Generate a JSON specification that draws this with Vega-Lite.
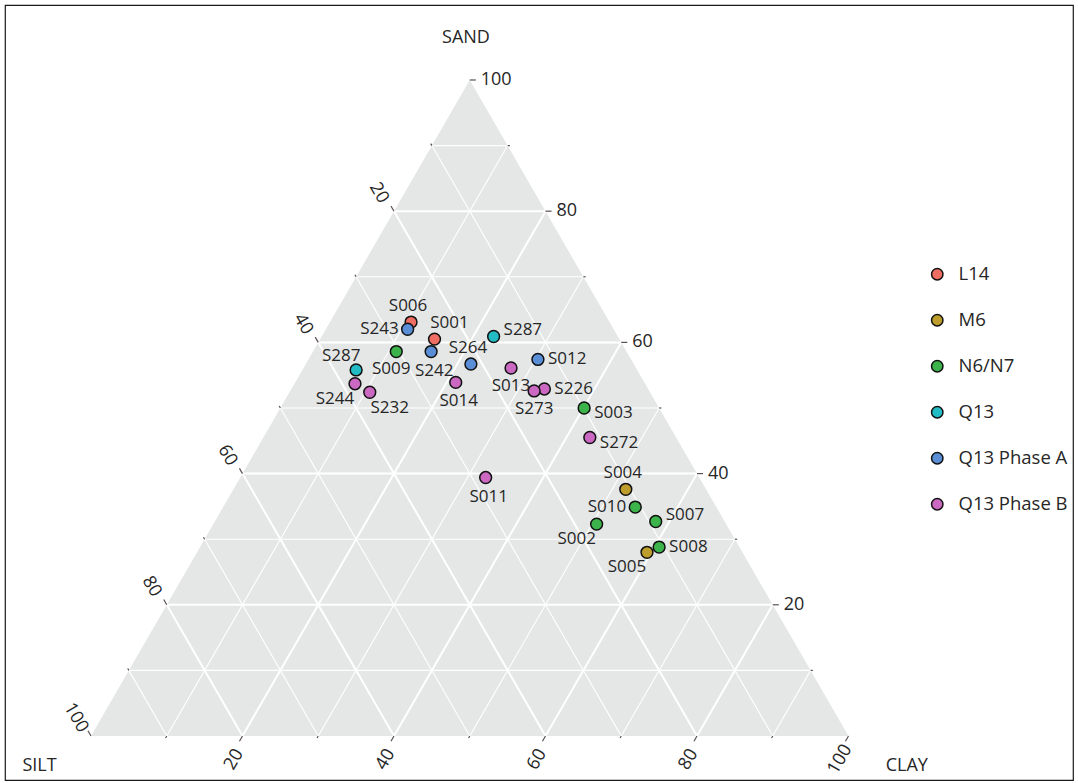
{
  "$schema": "https://vega.github.io/schema/vega-lite/v6.json",
  "width": 1068,
  "height": 775,
  "autosize": {"type": "none"},
  "padding": {"left": 5, "top": 5, "right": 5, "bottom": 3},
  "background": "white",
  "config": {
    "view": {"stroke": "#1a1a1a", "strokeWidth": 1.2},
    "font": "Open Sans",
    "text": {"font": "Open Sans", "color": "#262626"}
  },
  "datasets": {
    "corners": [
      {"corner": "SILT", "sand": 0, "clay": 0},
      {"corner": "SAND", "sand": 100, "clay": 0},
      {"corner": "CLAY", "sand": 0, "clay": 100}
    ],
    "scale": [
      {"axis": "SAND", "v": 10}, {"axis": "SAND", "v": 20}, {"axis": "SAND", "v": 30}, {"axis": "SAND", "v": 40}, {"axis": "SAND", "v": 50},
      {"axis": "SAND", "v": 60}, {"axis": "SAND", "v": 70}, {"axis": "SAND", "v": 80}, {"axis": "SAND", "v": 90}, {"axis": "SAND", "v": 100},
      {"axis": "SILT", "v": 10}, {"axis": "SILT", "v": 20}, {"axis": "SILT", "v": 30}, {"axis": "SILT", "v": 40}, {"axis": "SILT", "v": 50},
      {"axis": "SILT", "v": 60}, {"axis": "SILT", "v": 70}, {"axis": "SILT", "v": 80}, {"axis": "SILT", "v": 90}, {"axis": "SILT", "v": 100},
      {"axis": "CLAY", "v": 10}, {"axis": "CLAY", "v": 20}, {"axis": "CLAY", "v": 30}, {"axis": "CLAY", "v": 40}, {"axis": "CLAY", "v": 50},
      {"axis": "CLAY", "v": 60}, {"axis": "CLAY", "v": 70}, {"axis": "CLAY", "v": 80}, {"axis": "CLAY", "v": 90}, {"axis": "CLAY", "v": 100}
    ],
    "samples": [
      {"sample": "S006", "group": "L14", "sand": 63.1, "silt": 26.2, "clay": 10.7, "side": "above"},
      {"sample": "S001", "group": "L14", "sand": 60.5, "silt": 24.4, "clay": 15.1, "side": "aboveright"},
      {"sample": "S004", "group": "M6", "sand": 37.6, "silt": 10.6, "clay": 51.8, "side": "above"},
      {"sample": "S005", "group": "M6", "sand": 28.0, "silt": 12.6, "clay": 59.4, "side": "belowleft"},
      {"sample": "S009", "group": "N6/N7", "sand": 58.6, "silt": 30.4, "clay": 11.0, "side": "belowl"},
      {"sample": "S003", "group": "N6/N7", "sand": 50.0, "silt": 9.9, "clay": 40.1, "side": "rightlow"},
      {"sample": "S010", "group": "N6/N7", "sand": 34.9, "silt": 10.7, "clay": 54.4, "side": "left"},
      {"sample": "S007", "group": "N6/N7", "sand": 32.7, "silt": 9.1, "clay": 58.2, "side": "rightup"},
      {"sample": "S002", "group": "N6/N7", "sand": 32.3, "silt": 17.1, "clay": 50.6, "side": "belowleft"},
      {"sample": "S008", "group": "N6/N7", "sand": 28.8, "silt": 10.6, "clay": 60.6, "side": "right"},
      {"sample": "S287", "group": "Q13", "sand": 60.9, "silt": 16.4, "clay": 22.7, "side": "rightup"},
      {"sample": "S287", "group": "Q13", "sand": 55.8, "silt": 37.1, "clay": 7.1, "side": "aboveleft"},
      {"sample": "S243", "group": "Q13 Phase A", "sand": 62.0, "silt": 27.2, "clay": 10.8, "side": "left"},
      {"sample": "S242", "group": "Q13 Phase A", "sand": 58.6, "silt": 25.8, "clay": 15.6, "side": "belowr"},
      {"sample": "S264", "group": "Q13 Phase A", "sand": 56.7, "silt": 21.5, "clay": 21.8, "side": "above"},
      {"sample": "S012", "group": "Q13 Phase A", "sand": 57.4, "silt": 12.3, "clay": 30.3, "side": "right"},
      {"sample": "S013", "group": "Q13 Phase B", "sand": 56.1, "silt": 16.5, "clay": 27.4, "side": "below"},
      {"sample": "S244", "group": "Q13 Phase B", "sand": 53.7, "silt": 38.3, "clay": 8.0, "side": "belowleft"},
      {"sample": "S232", "group": "Q13 Phase B", "sand": 52.4, "silt": 37.0, "clay": 10.6, "side": "belowright"},
      {"sample": "S014", "group": "Q13 Phase B", "sand": 53.9, "silt": 24.9, "clay": 21.2, "side": "belowr"},
      {"sample": "S226", "group": "Q13 Phase B", "sand": 52.9, "silt": 13.7, "clay": 33.4, "side": "right"},
      {"sample": "S273", "group": "Q13 Phase B", "sand": 52.6, "silt": 15.2, "clay": 32.2, "side": "below"},
      {"sample": "S272", "group": "Q13 Phase B", "sand": 45.5, "silt": 11.4, "clay": 43.1, "side": "rightlow"},
      {"sample": "S011", "group": "Q13 Phase B", "sand": 39.4, "silt": 28.2, "clay": 32.4, "side": "belowr"}
    ]
  },
  "layer": [
    {
      "data": {"name": "corners"},
      "transform": [
        {"calculate": "datum.clay + datum.sand / 2", "as": "X"},
        {"calculate": "datum.sand * 0.8660254", "as": "Y"}
      ],
      "mark": {"type": "area", "color": "#e5e6e6", "opacity": 1},
      "encoding": {
        "x": {"field": "X", "type": "quantitative", "scale": {"domain": [-11.353, 129.637], "nice": false, "zero": false}, "axis": null},
        "y": {"field": "Y", "type": "quantitative", "scale": {"domain": [-5.809, 96.502], "nice": false, "zero": false}, "axis": null},
        "y2": {"datum": 0}
      }
    },
    {
      "data": {"name": "scale"},
      "transform": [
        {"calculate": "datum.axis == 'SAND' ? 100 - datum.v / 2 : datum.axis == 'SILT' ? (100 - datum.v) / 2 : datum.v", "as": "ex"},
        {"calculate": "datum.axis == 'SAND' ? datum.v * 0.8660254 : datum.axis == 'SILT' ? (100 - datum.v) * 0.8660254 : 0", "as": "ey"},
        {"calculate": "datum.axis == 'SAND' ? datum.v / 2 : datum.axis == 'SILT' ? 100 - datum.v : 50 + datum.v / 2", "as": "gx"},
        {"calculate": "datum.axis == 'SAND' ? datum.v * 0.8660254 : datum.axis == 'SILT' ? 0 : (100 - datum.v) * 0.8660254", "as": "gy"},
        {"calculate": "datum.v % 20 == 0 ? 0.8 : 0.3", "as": "tl"},
        {"calculate": "datum.ex + datum.tl * (datum.axis == 'SAND' ? 1 : -0.5)", "as": "tx"},
        {"calculate": "datum.ey + datum.tl * (datum.axis == 'SAND' ? 0 : datum.axis == 'SILT' ? 0.8660254 : -0.8660254)", "as": "ty"},
        {"calculate": "datum.ex + (datum.axis == 'SAND' ? 1.45 : datum.axis == 'SILT' ? -2.0 : -1.1)", "as": "lx"},
        {"calculate": "datum.ey + (datum.axis == 'SAND' ? 0 : datum.axis == 'SILT' ? 2.4 : -3.1)", "as": "ly"}
      ],
      "layer": [
        {
          "transform": [{"filter": "datum.v < 100 && datum.v % 20 != 0"}],
          "mark": {"type": "rule", "color": "white", "strokeWidth": 1.1},
          "encoding": {
            "x": {"field": "ex", "type": "quantitative", "axis": null},
            "y": {"field": "ey", "type": "quantitative", "axis": null},
            "x2": {"field": "gx"},
            "y2": {"field": "gy"}
          }
        },
        {
          "transform": [{"filter": "datum.v < 100 && datum.v % 20 == 0"}],
          "mark": {"type": "rule", "color": "white", "strokeWidth": 2},
          "encoding": {
            "x": {"field": "ex", "type": "quantitative", "axis": null},
            "y": {"field": "ey", "type": "quantitative", "axis": null},
            "x2": {"field": "gx"},
            "y2": {"field": "gy"}
          }
        },
        {
          "mark": {"type": "rule", "color": "#5a5050", "strokeWidth": 1.2},
          "encoding": {
            "x": {"field": "ex", "type": "quantitative", "axis": null},
            "y": {"field": "ey", "type": "quantitative", "axis": null},
            "x2": {"field": "tx"},
            "y2": {"field": "ty"}
          }
        },
        {
          "transform": [{"filter": "datum.v % 20 == 0 && datum.axis == 'SAND'"}],
          "mark": {"type": "text", "align": "left", "baseline": "middle", "fontSize": 18},
          "encoding": {
            "x": {"field": "lx", "type": "quantitative", "axis": null},
            "y": {"field": "ly", "type": "quantitative", "axis": null},
            "text": {"field": "v"}
          }
        },
        {
          "transform": [{"filter": "datum.v % 20 == 0 && datum.axis == 'SILT'"}],
          "mark": {"type": "text", "align": "center", "baseline": "middle", "fontSize": 18, "angle": 60},
          "encoding": {
            "x": {"field": "lx", "type": "quantitative", "axis": null},
            "y": {"field": "ly", "type": "quantitative", "axis": null},
            "text": {"field": "v"}
          }
        },
        {
          "transform": [{"filter": "datum.v % 20 == 0 && datum.axis == 'CLAY'"}],
          "mark": {"type": "text", "align": "center", "baseline": "middle", "fontSize": 18, "angle": 300},
          "encoding": {
            "x": {"field": "lx", "type": "quantitative", "axis": null},
            "y": {"field": "ly", "type": "quantitative", "axis": null},
            "text": {"field": "v"}
          }
        }
      ]
    },
    {
      "data": {"name": "samples"},
      "transform": [
        {"calculate": "datum.clay + datum.sand / 2", "as": "X"},
        {"calculate": "datum.sand * 0.8660254", "as": "Y"}
      ],
      "encoding": {
        "x": {"field": "X", "type": "quantitative", "axis": null},
        "y": {"field": "Y", "type": "quantitative", "axis": null}
      },
      "layer": [
        {
          "mark": {"type": "point", "filled": true, "size": 140, "stroke": "#111111", "strokeWidth": 1.5, "opacity": 1, "shape": "circle"},
          "encoding": {
            "color": {
              "field": "group", "type": "nominal",
              "scale": {
                "domain": ["L14", "M6", "N6/N7", "Q13", "Q13 Phase A", "Q13 Phase B"],
                "range": ["#ef6e63", "#bd9e2c", "#3cb44b", "#24bcc4", "#5a8ed6", "#cb69c2"]
              },
              "legend": {
                "orient": "none", "legendX": 923, "legendY": 260, "title": null,
                "symbolType": "circle", "symbolSize": 130, "symbolStrokeColor": "#111111", "symbolStrokeWidth": 1.5,
                "labelFontSize": 18.5, "labelFont": "Open Sans", "labelColor": "#262626",
                "rowPadding": 27, "labelOffset": 12, "padding": 0
              }
            }
          }
        },
        {"transform": [{"filter": "datum.side == 'right'"}], "mark": {"type": "text", "align": "left", "baseline": "middle", "dx": 10, "dy": 0, "fontSize": 17}, "encoding": {"text": {"field": "sample"}}},
        {"transform": [{"filter": "datum.side == 'rightup'"}], "mark": {"type": "text", "align": "left", "baseline": "middle", "dx": 10, "dy": -6, "fontSize": 17}, "encoding": {"text": {"field": "sample"}}},
        {"transform": [{"filter": "datum.side == 'rightlow'"}], "mark": {"type": "text", "align": "left", "baseline": "middle", "dx": 10, "dy": 5, "fontSize": 17}, "encoding": {"text": {"field": "sample"}}},
        {"transform": [{"filter": "datum.side == 'left'"}], "mark": {"type": "text", "align": "right", "baseline": "middle", "dx": -9, "dy": 0, "fontSize": 17}, "encoding": {"text": {"field": "sample"}}},
        {"transform": [{"filter": "datum.side == 'above'"}], "mark": {"type": "text", "align": "center", "baseline": "middle", "dx": -3, "dy": -16, "fontSize": 17}, "encoding": {"text": {"field": "sample"}}},
        {"transform": [{"filter": "datum.side == 'below'"}], "mark": {"type": "text", "align": "center", "baseline": "middle", "dx": 0, "dy": 18, "fontSize": 17}, "encoding": {"text": {"field": "sample"}}},
        {"transform": [{"filter": "datum.side == 'belowl'"}], "mark": {"type": "text", "align": "center", "baseline": "middle", "dx": -5, "dy": 17, "fontSize": 17}, "encoding": {"text": {"field": "sample"}}},
        {"transform": [{"filter": "datum.side == 'belowr'"}], "mark": {"type": "text", "align": "center", "baseline": "middle", "dx": 3, "dy": 19, "fontSize": 17}, "encoding": {"text": {"field": "sample"}}},
        {"transform": [{"filter": "datum.side == 'aboveright'"}], "mark": {"type": "text", "align": "center", "baseline": "middle", "dx": 15, "dy": -16, "fontSize": 17}, "encoding": {"text": {"field": "sample"}}},
        {"transform": [{"filter": "datum.side == 'aboveleft'"}], "mark": {"type": "text", "align": "center", "baseline": "middle", "dx": -15, "dy": -14, "fontSize": 17}, "encoding": {"text": {"field": "sample"}}},
        {"transform": [{"filter": "datum.side == 'belowleft'"}], "mark": {"type": "text", "align": "center", "baseline": "middle", "dx": -20, "dy": 15, "fontSize": 17}, "encoding": {"text": {"field": "sample"}}},
        {"transform": [{"filter": "datum.side == 'belowright'"}], "mark": {"type": "text", "align": "center", "baseline": "middle", "dx": 20, "dy": 16, "fontSize": 17}, "encoding": {"text": {"field": "sample"}}}
      ]
    },
    {
      "data": {"values": [{"label": "SAND"}]},
      "mark": {"type": "text", "align": "center", "baseline": "middle", "fontSize": 18},
      "encoding": {
        "x": {"datum": 49.5, "type": "quantitative"},
        "y": {"datum": 92.15, "type": "quantitative"},
        "text": {"field": "label"}
      }
    },
    {
      "data": {"values": [{"label": "SILT"}]},
      "mark": {"type": "text", "align": "center", "baseline": "middle", "fontSize": 18},
      "encoding": {
        "x": {"datum": -6.8, "type": "quantitative"},
        "y": {"datum": -4.0, "type": "quantitative"},
        "text": {"field": "label"}
      }
    },
    {
      "data": {"values": [{"label": "CLAY"}]},
      "mark": {"type": "text", "align": "center", "baseline": "middle", "fontSize": 18},
      "encoding": {
        "x": {"datum": 107.7, "type": "quantitative"},
        "y": {"datum": -4.0, "type": "quantitative"},
        "text": {"field": "label"}
      }
    }
  ]
}
